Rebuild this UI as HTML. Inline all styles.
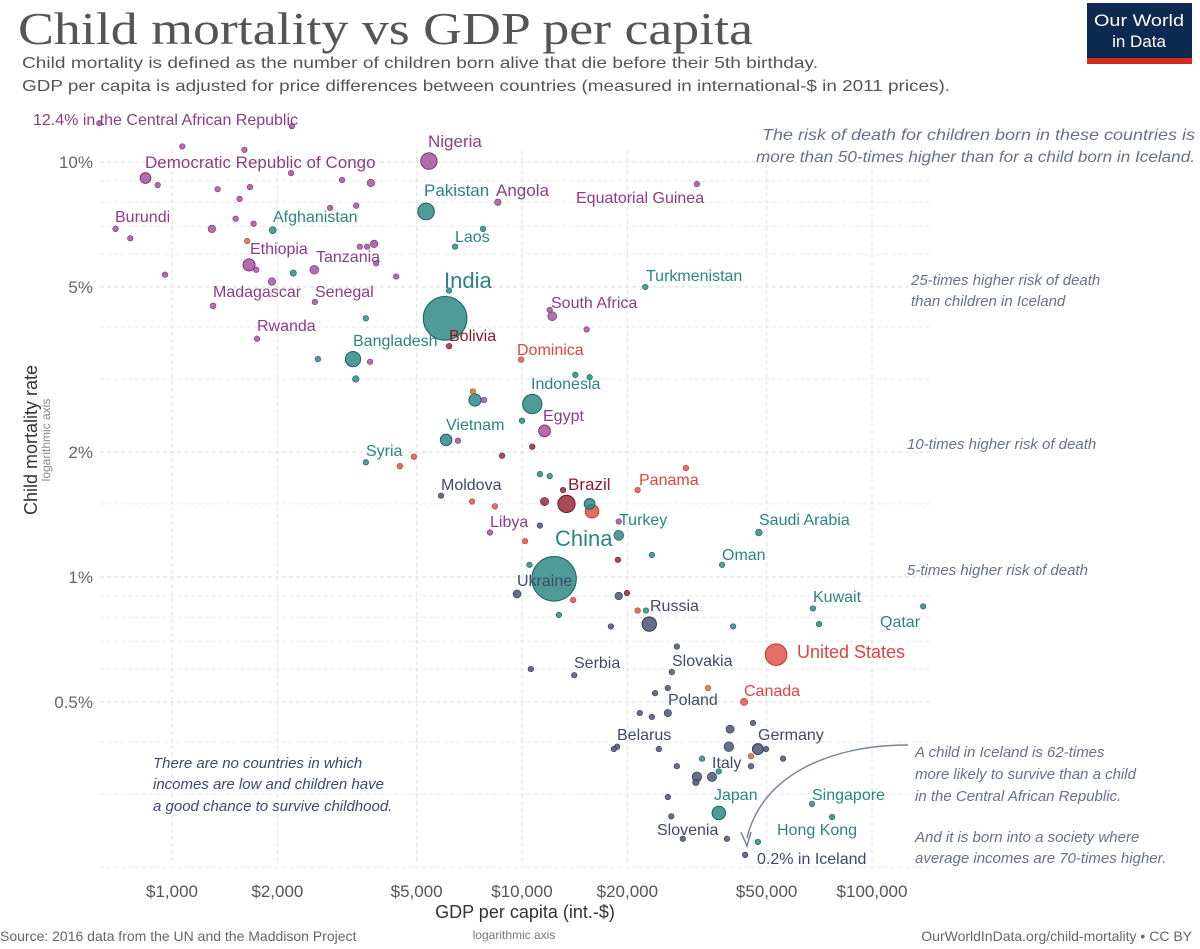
<!DOCTYPE html>
<html><head><meta charset="utf-8">
<style>
html,body{margin:0;padding:0;background:#fff;}
svg{display:block;font-family:"Liberation Sans",sans-serif;}
.ann{font-style:italic;font-size:15px;fill:#68718a;}
.lbl{font-size:16px;}
</style></head>
<body>
<svg id="chart" width="1200" height="949" viewBox="0 0 1200 949" xmlns="http://www.w3.org/2000/svg">
<text x="18" y="44" font-family="Liberation Serif,serif" font-size="46" fill="#555" textLength="735" lengthAdjust="spacingAndGlyphs">Child mortality vs GDP per capita</text>
<text x="22" y="68" font-size="16" fill="#555" textLength="796" lengthAdjust="spacingAndGlyphs">Child mortality is defined as the number of children born alive that die before their 5th birthday.</text>
<text x="22" y="91" font-size="16" fill="#555" textLength="928" lengthAdjust="spacingAndGlyphs">GDP per capita is adjusted for price differences between countries (measured in international-$ in 2011 prices).</text>
<g>
<rect x="1087" y="3" width="105" height="60" fill="#0d2a50"/>
<rect x="1087" y="58" width="105" height="6" fill="#d42b21"/>
<text x="1139" y="26" text-anchor="middle" fill="#fff" font-size="17" textLength="90" lengthAdjust="spacingAndGlyphs">Our World</text>
<text x="1139" y="47" text-anchor="middle" fill="#fff" font-size="17">in Data</text>
</g>
<g id="grid"></g>
<g id="axes"></g>
<g id="points"></g>
<g id="labels" class="lbl">
<text x="33" y="125" fill="#8d3c8a">12.4% in the Central African Republic</text>
<text x="428" y="147" fill="#8d3c8a" font-size="17">Nigeria</text>
<text x="145" y="168" fill="#8d3c8a" font-size="17">Democratic Republic of Congo</text>
<text x="424" y="196" fill="#2a8582" font-size="17">Pakistan</text>
<text x="496" y="196" fill="#8d3c8a" font-size="17">Angola</text>
<text x="576" y="203" fill="#8d3c8a">Equatorial Guinea</text>
<text x="115" y="222" fill="#8d3c8a">Burundi</text>
<text x="273" y="222" fill="#2a8582">Afghanistan</text>
<text x="455" y="242" fill="#2a8582">Laos</text>
<text x="250" y="254" fill="#8d3c8a">Ethiopia</text>
<text x="316" y="262" fill="#8d3c8a">Tanzania</text>
<text x="646" y="281" fill="#2a8582">Turkmenistan</text>
<text x="444" y="288" fill="#2a8582" font-size="22">India</text>
<text x="213" y="297" fill="#8d3c8a">Madagascar</text>
<text x="315" y="297" fill="#8d3c8a">Senegal</text>
<text x="551" y="308" fill="#8d3c8a">South Africa</text>
<text x="257" y="331" fill="#8d3c8a">Rwanda</text>
<text x="353" y="346" fill="#2a8582">Bangladesh</text>
<text x="449" y="341" fill="#8b1a2a">Bolivia</text>
<text x="517" y="355" fill="#e0433f">Dominica</text>
<text x="531" y="389" fill="#2a8582">Indonesia</text>
<text x="543" y="421" fill="#8d3c8a">Egypt</text>
<text x="446" y="430" fill="#2a8582">Vietnam</text>
<text x="366" y="456" fill="#2a8582">Syria</text>
<text x="441" y="490" fill="#3f4a69">Moldova</text>
<text x="568" y="490" fill="#8b1a2a" font-size="17">Brazil</text>
<text x="639" y="485" fill="#e0433f">Panama</text>
<text x="490" y="527" fill="#8d3c8a">Libya</text>
<text x="619" y="525" fill="#2a8582">Turkey</text>
<text x="555" y="546" fill="#2a8582" font-size="22">China</text>
<text x="759" y="525" fill="#2a8582">Saudi Arabia</text>
<text x="722" y="560" fill="#2a8582">Oman</text>
<text x="517" y="586" fill="#3f4a69">Ukraine</text>
<text x="650" y="611" fill="#3f4a69">Russia</text>
<text x="813" y="602" fill="#2a8582">Kuwait</text>
<text x="880" y="627" fill="#2a8582">Qatar</text>
<text x="797" y="658" fill="#e0433f" font-size="18">United States</text>
<text x="574" y="668" fill="#3f4a69">Serbia</text>
<text x="672" y="666" fill="#3f4a69">Slovakia</text>
<text x="744" y="696" fill="#e0433f">Canada</text>
<text x="668" y="705" fill="#3f4a69">Poland</text>
<text x="617" y="740" fill="#3f4a69">Belarus</text>
<text x="758" y="740" fill="#3f4a69">Germany</text>
<text x="712" y="768" fill="#3f4a69">Italy</text>
<text x="714" y="800" fill="#2a8582">Japan</text>
<text x="812" y="800" fill="#2a8582">Singapore</text>
<text x="657" y="835" fill="#3f4a69">Slovenia</text>
<text x="777" y="835" fill="#2a8582">Hong Kong</text>
<text x="757" y="864" fill="#3f4a69">0.2% in Iceland</text>
</g>
<g class="ann">
<text x="762" y="140" textLength="433" lengthAdjust="spacingAndGlyphs" style="font-size:16px">The risk of death for children born in these countries is</text>
<text x="756" y="162" textLength="439" lengthAdjust="spacingAndGlyphs" style="font-size:16px">more than 50-times higher than for a child born in Iceland.</text>
<text x="911" y="285">25-times higher risk of death</text>
<text x="911" y="306">than children in Iceland</text>
<text x="907" y="449">10-times higher risk of death</text>
<text x="907" y="575">5-times higher risk of death</text>
<text x="915" y="757">A child in Iceland is 62-times</text>
<text x="915" y="779">more likely to survive than a child</text>
<text x="915" y="801">in the Central African Republic.</text>
<text x="915" y="842">And it is born into a society where</text>
<text x="915" y="863">average incomes are 70-times higher.</text>
<text x="153" y="768" style="fill:#3c4a6e">There are no countries in which</text>
<text x="153" y="789" style="fill:#3c4a6e">incomes are low and children have</text>
<text x="153" y="811" style="fill:#3c4a6e">a good chance to survive childhood.</text>
</g>
<g>
<path d="M908 745 C 830 745, 762 775, 747 838" fill="none" stroke="#7a859c" stroke-width="1.5"/>
<path d="M741 832 L747 846 L751 832" fill="none" stroke="#7a859c" stroke-width="1.5"/>
</g>
<text x="525" y="918" text-anchor="middle" font-size="18" fill="#333">GDP per capita (int.-$)</text>
<text x="514" y="939" text-anchor="middle" font-size="12" fill="#777">logarithmic axis</text>
<text transform="translate(37,440) rotate(-90)" text-anchor="middle" font-size="18" fill="#333">Child mortality rate</text>
<text transform="translate(50,440) rotate(-90)" text-anchor="middle" font-size="12" fill="#888">logarithmic axis</text>
<text x="0" y="941" font-size="14" fill="#666">Source: 2016 data from the UN and the Maddison Project</text>
<text x="1192" y="941" text-anchor="end" font-size="14" fill="#666">OurWorldInData.org/child-mortality  • CC BY</text>
</svg>
<script>
const gdp = [620,2200,1070,1610,5420,840,910,2190,3060,3700,1350,1670,1560,5320,8530,2830,3360,690,760,1300,1520,1710,1940,1640,6440,7740,3440,3610,3780,1660,1740,2220,2550,3830,955,4370,1930,6190,1310,2560,6030,3580,12200,12000,15300,1750,6190,3290,2610,3680,3350,9940,14200,15600,7240,7340,7790,10700,10000,11600,6070,6560,10700,3580,4910,4480,8770,11250,12000,5870,29400,21400,13100,13400,11600,7200,8370,15600,15850,8100,11250,10200,18900,18900,12350,10500,18800,23500,47500,37300,9680,14000,12750,18900,19950,21400,22600,23100,17950,40100,67800,70600,140000,53200,27700,26800,10600,14100,34000,24000,26100,43100,26100,21700,23500,45700,39300,18700,18300,24600,39000,47200,49800,45100,55700,32700,45100,27700,31600,31400,34900,36500,26100,36500,67400,76900,26700,28800,38500,47200,43400,31600,22500];
const mort = [12.4,12.2,10.9,10.7,10.05,9.15,8.8,9.4,9.05,8.9,8.6,8.7,8.15,7.6,8.0,7.75,7.85,6.9,6.55,6.9,7.3,7.1,6.85,6.45,6.25,6.9,6.25,6.25,6.35,5.65,5.5,5.4,5.5,5.7,5.35,5.3,5.15,4.9,4.5,4.6,4.2,4.2,4.25,4.4,3.95,3.75,3.6,3.35,3.35,3.3,3.0,3.34,3.07,3.03,2.8,2.67,2.67,2.61,2.38,2.25,2.14,2.13,2.06,1.89,1.95,1.85,1.96,1.77,1.75,1.57,1.83,1.62,1.62,1.5,1.52,1.52,1.48,1.5,1.44,1.28,1.33,1.22,1.36,1.26,0.99,1.07,1.1,1.13,1.28,1.07,0.91,0.88,0.81,0.9,0.915,0.83,0.83,0.77,0.76,0.76,0.84,0.77,0.85,0.65,0.68,0.59,0.6,0.58,0.54,0.525,0.54,0.50,0.47,0.47,0.46,0.445,0.43,0.39,0.385,0.385,0.39,0.385,0.385,0.37,0.365,0.365,0.35,0.35,0.33,0.32,0.33,0.34,0.295,0.27,0.284,0.264,0.265,0.234,0.234,0.23,0.214,8.85,5.0];
const population = [5,10,10,10,186,79,20,10,10,40,10,10,10,193,29,10,10,10,10,40,10,10,35,10,10,10,10,10,40,102,20,28,56,10,10,10,40,10,25,15,1324,10,56,10,10,12,11,163,10,10,30,10,10,10,10,104,10,261,10,96,93,10,10,10,10,10,10,10,10,10,10,10,20,208,48,10,10,80,127,10,10,10,10,69,1379,10,10,10,32,10,45,10,10,40,10,10,10,144,10,10,10,10,10,323,10,10,10,10,10,10,10,36,38,10,10,10,46,10,10,10,66,82,10,10,10,10,10,10,65,30,60,10,10,127,10,10,10,10,10,10,10,10,10];
const region = ['af','af','af','af','af','af','af','af','af','af','af','af','af','as','af','af','af','af','af','af','af','af','as','oc','as','as','af','af','af','af','af','as','af','af','af','af','af','as','af','af','as','as','af','af','af','af','sa','as','as','af','as','na','as','as','oc','as','af','as','as','af','as','af','sa','as','na','na','sa','as','as','eu','na','na','sa','sa','sa','na','na','as','na','af','eu','na','af','as','as','as','sa','as','as','as','eu','na','as','eu','sa','na','as','eu','eu','as','as','as','as','na','eu','eu','eu','eu','oc','eu','eu','na','eu','eu','eu','eu','eu','eu','eu','eu','eu','eu','eu','oc','eu','as','eu','eu','eu','eu','eu','as','eu','as','as','as','eu','eu','eu','as','eu','af','as'];
const xTicks = [1000,2000,5000,10000,20000,50000,100000];
const xTickLabels = ['$1,000','$2,000','$5,000','$10,000','$20,000','$50,000','$100,000'];
const yTicks = [10,5,2,1,0.5];
const yTickLabels = ['10%','5%','2%','1%','0.5%'];
const yMinor = [0.2,0.3,0.4,0.6,0.7,0.8,0.9,1.5,3,4,6,7,8,9];

const NS='http://www.w3.org/2000/svg';
function xs(v){return 172+(Math.log10(v)-3)*350;}
function ys(v){return 577-Math.log10(v)*415;}
const fills={af:'#a2559c',as:'#2f8a86',eu:'#4b5676',na:'#e3554d',sa:'#9a2a3a',oc:'#c77543'};
const strokes={af:'#7a3574',as:'#1e625f',eu:'#333c55',na:'#b53a33',sa:'#6e1a26',oc:'#94522c'};
function mk(tag,attrs,parent){const e=document.createElementNS(NS,tag);for(const k in attrs)e.setAttribute(k,attrs[k]);parent.appendChild(e);return e;}
const grid=document.getElementById('grid'),axes=document.getElementById('axes'),pts=document.getElementById('points');
yMinor.forEach(v=>{
  const l=mk('line',{x1:100,x2:930,y1:ys(v),y2:ys(v),stroke:'#eaeaea','stroke-dasharray':'4 3','stroke-width':1},grid);
  
  
});
yTicks.forEach((v,i)=>{
  const l=mk('line',{x1:100,x2:930,y1:ys(v),y2:ys(v),stroke:'#dcdcdc','stroke-dasharray':'4 3','stroke-width':1},grid);
  
  
  const t=mk('text',{x:93,y:ys(v)+6,'text-anchor':'end','font-size':17,fill:'#666'},axes);
  t.textContent=yTickLabels[i];
  
  
});
xTicks.forEach((v,i)=>{
  const l=mk('line',{x1:xs(v),x2:xs(v),y1:150,y2:862,stroke:'#e2e2e2','stroke-dasharray':'4 3','stroke-width':1},grid);
  
  
  const t=mk('text',{x:xs(v),y:897,'text-anchor':'middle','font-size':17,fill:'#555'},axes);
  t.textContent=xTickLabels[i];
  
  
});
const order=gdp.map((_,i)=>i).sort((a,b)=>population[b]-population[a]);
order.forEach(i=>{
  const r=Math.max(2.8,0.6*Math.sqrt(population[i]));
  const c=mk('circle',{cx:xs(gdp[i]),cy:ys(mort[i]),r:r,fill:fills[region[i]],'fill-opacity':0.85,stroke:strokes[region[i]],'stroke-width':r>5?1:0.6},pts);
  
  
});
</script>
</body></html>
